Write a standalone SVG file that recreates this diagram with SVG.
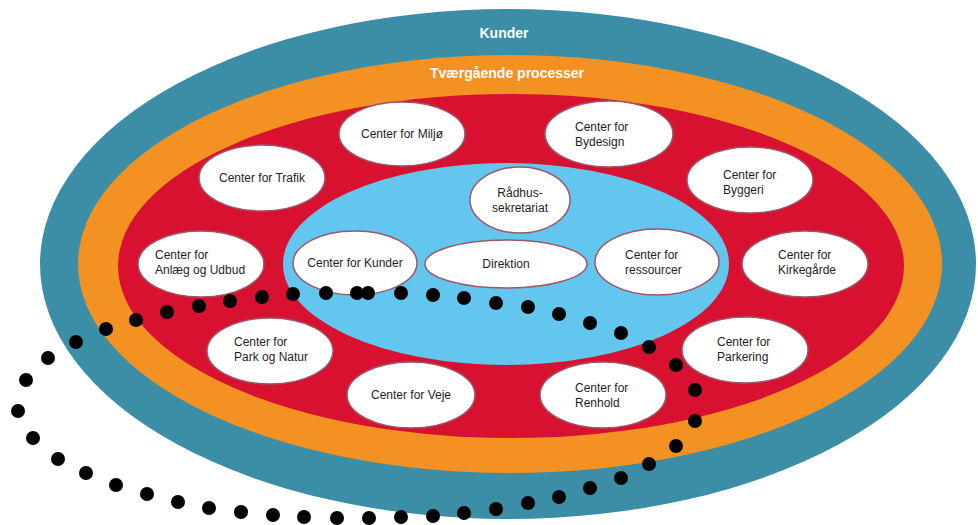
<svg xmlns="http://www.w3.org/2000/svg" width="978" height="525" viewBox="0 0 978 525">
<style>
.node ellipse{fill:#ffffff;stroke:#9c5868;stroke-width:1.5}
.node text{font-family:"Liberation Sans",Arial,sans-serif;font-size:12px;fill:#1e1e1e}
.mid{text-anchor:middle}
.ring{font-family:"Liberation Sans",Arial,sans-serif;font-size:14px;fill:#ffffff;text-anchor:middle;font-weight:bold}
.dot{fill:#000000}
</style>
<rect width="978" height="525" fill="#ffffff"/>
<g id="rings">
<ellipse cx="508" cy="264" rx="468" ry="255" fill="#3c8ea7"/>
<ellipse cx="510" cy="264" rx="432" ry="209" fill="#f39122"/>
<ellipse cx="511" cy="266" rx="393" ry="172" fill="#d7112f"/>
<ellipse cx="506" cy="264" rx="223" ry="101" fill="#62c6ef"/>
<text class="ring" x="504" y="38">Kunder</text>
<text class="ring" x="507" y="78">Tværgående processer</text>
</g>
<g id="n-miljo" class="node"><ellipse cx="402" cy="134" rx="63" ry="32"/><text class="mid" x="402" y="138">Center for Miljø</text></g>
<g id="n-trafik" class="node"><ellipse cx="262" cy="178" rx="63" ry="33"/><text class="mid" x="262" y="182">Center for Trafik</text></g>
<g id="n-anlaeg" class="node"><ellipse cx="201" cy="264" rx="63" ry="33"/><text x="155" y="259"><tspan x="155">Center for</tspan><tspan x="155" dy="15">Anlæg og Udbud</tspan></text></g>
<g id="n-kunder" class="node"><ellipse cx="355" cy="263" rx="62" ry="32"/><text class="mid" x="355" y="267">Center for Kunder</text></g>
<g id="n-raadhus" class="node"><ellipse cx="520" cy="200" rx="50" ry="33"/><text class="mid" x="520" y="197"><tspan x="520">Rådhus-</tspan><tspan x="520" dy="15">sekretariat</tspan></text></g>
<g id="n-direktion" class="node"><ellipse cx="506" cy="264" rx="81" ry="24"/><text class="mid" x="506" y="268">Direktion</text></g>
<g id="n-ressourcer" class="node"><ellipse cx="657" cy="262" rx="62" ry="33"/><text x="625" y="259"><tspan x="625">Center for</tspan><tspan x="625" dy="15">ressourcer</tspan></text></g>
<g id="n-bydesign" class="node"><ellipse cx="609" cy="134" rx="64" ry="33"/><text x="575" y="131"><tspan x="575">Center for</tspan><tspan x="575" dy="15">Bydesign</tspan></text></g>
<g id="n-byggeri" class="node"><ellipse cx="750" cy="180" rx="63" ry="33"/><text x="723" y="179"><tspan x="723">Center for</tspan><tspan x="723" dy="15">Byggeri</tspan></text></g>
<g id="n-kirkegaarde" class="node"><ellipse cx="805" cy="264" rx="63" ry="33"/><text x="778" y="259"><tspan x="778">Center for</tspan><tspan x="778" dy="15">Kirkegårde</tspan></text></g>
<g id="n-parkering" class="node"><ellipse cx="745" cy="350" rx="63" ry="33"/><text x="717" y="346"><tspan x="717">Center for</tspan><tspan x="717" dy="15">Parkering</tspan></text></g>
<g id="n-renhold" class="node"><ellipse cx="603" cy="395" rx="63" ry="33"/><text x="575" y="392"><tspan x="575">Center for</tspan><tspan x="575" dy="15">Renhold</tspan></text></g>
<g id="n-veje" class="node"><ellipse cx="411" cy="395" rx="64" ry="33"/><text class="mid" x="411" y="399">Center for Veje</text></g>
<g id="n-parknatur" class="node"><ellipse cx="270" cy="351" rx="63" ry="33"/><text x="234" y="346"><tspan x="234">Center for</tspan><tspan x="234" dy="15">Park og Natur</tspan></text></g>
<g id="connectors"></g>
<g id="dotted-loop" class="dot">
<circle cx="48" cy="358" r="7"/><circle cx="76" cy="342" r="7"/><circle cx="106" cy="329" r="7"/><circle cx="136" cy="320" r="7"/><circle cx="167" cy="312" r="7"/><circle cx="199" cy="306" r="7"/><circle cx="230" cy="301" r="7"/><circle cx="262" cy="297" r="7"/><circle cx="293" cy="294" r="7"/><circle cx="326" cy="293" r="7"/><circle cx="357" cy="293" r="7"/><circle cx="368" cy="293" r="7"/><circle cx="401" cy="293" r="7"/><circle cx="433" cy="295" r="7"/><circle cx="464" cy="298" r="7"/><circle cx="496" cy="303" r="7"/><circle cx="528" cy="307" r="7"/><circle cx="559" cy="314" r="7"/><circle cx="590" cy="323" r="7"/><circle cx="621" cy="333" r="7"/><circle cx="649" cy="347" r="7"/><circle cx="676" cy="365" r="7"/><circle cx="695" cy="390" r="7"/><circle cx="695" cy="421" r="7"/><circle cx="676" cy="446" r="7"/><circle cx="649" cy="464" r="7"/><circle cx="621" cy="478" r="7"/><circle cx="590" cy="488" r="7"/><circle cx="559" cy="497" r="7"/><circle cx="528" cy="503" r="7"/><circle cx="496" cy="509" r="7"/><circle cx="464" cy="513" r="7"/><circle cx="433" cy="516" r="7"/><circle cx="401" cy="517" r="7"/><circle cx="369" cy="518" r="7"/><circle cx="337" cy="518" r="7"/><circle cx="304" cy="517" r="7"/><circle cx="273" cy="515" r="7"/><circle cx="241" cy="512" r="7"/><circle cx="209" cy="508" r="7"/><circle cx="178" cy="502" r="7"/><circle cx="147" cy="494" r="7"/><circle cx="116" cy="485" r="7"/><circle cx="86" cy="473" r="7"/><circle cx="58" cy="459" r="7"/><circle cx="33" cy="438" r="7"/><circle cx="18" cy="411" r="7"/><circle cx="26" cy="380" r="7"/>
</g>
</svg>
